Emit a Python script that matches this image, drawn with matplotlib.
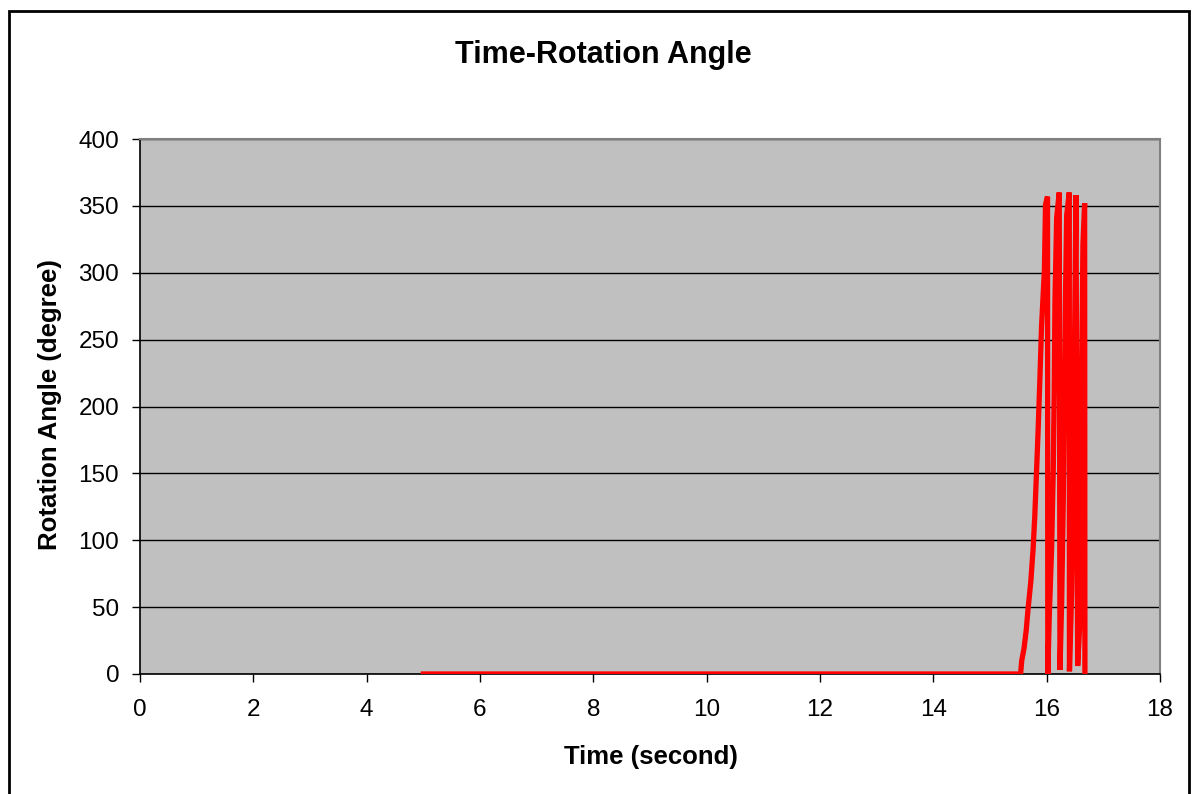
import matplotlib
matplotlib.use('Agg')
import matplotlib.pyplot as plt
from matplotlib.patches import Rectangle

# 数据：时间 (秒) 与 旋转角度 (度)
time_s = [5.00, 15.54, 15.56, 15.60, 15.64, 15.67, 15.72, 15.76, 15.79, 15.82,
          15.85, 15.88, 15.91, 15.96, 15.98, 16.015, 16.02,
          16.045, 16.088, 16.116, 16.134, 16.146, 16.176, 16.222, 16.235,
          16.265, 16.293, 16.315, 16.330, 16.353, 16.399, 16.402,
          16.441, 16.469, 16.485, 16.517, 16.547,
          16.587, 16.617, 16.640, 16.670, 16.675]
angle_deg = [0, 0, 10, 19, 33, 48, 69, 93, 118, 150,
             183, 220, 260, 302, 351, 357, 0,
             42, 95, 152, 212, 278, 341, 360, 3,
             55, 130, 210, 276, 343, 360, 2,
             61, 137, 217, 358, 6,
             39, 220, 321, 352, 0]

x_ticks = list(range(0, 19, 2))
y_ticks = list(range(0, 401, 50))

fig = plt.figure(figsize=(11.92, 7.94), dpi=100)
ax = fig.add_axes([140 / 1192, 1 - 674 / 794, 1020 / 1192, 535 / 794])

ax.set_facecolor('#C0C0C0')
ax.plot(time_s, angle_deg, color='#FF0000', lw=3.8, solid_joinstyle='miter', zorder=3)

ax.set_xlim(0, 18)
ax.set_ylim(0, 400)
ax.set_xticks(x_ticks)
ax.set_yticks(y_ticks)
ax.yaxis.grid(True, color='black', lw=1)
ax.set_axisbelow(True)

for s in ['top', 'right']:
    ax.spines[s].set_color('#808080')
    ax.spines[s].set_linewidth(1.5)
for s in ['bottom', 'left']:
    ax.spines[s].set_color('black')
    ax.spines[s].set_linewidth(1.2)

ax.tick_params(direction='out', length=6, width=1, colors='black', labelsize=17.5)
ax.tick_params(axis='x', pad=12)
ax.tick_params(axis='y', pad=9)
for lab in ax.get_xticklabels() + ax.get_yticklabels():
    lab.set_family('Liberation Sans')

ax.set_xlabel('Time (second)', fontsize=18.5, fontweight='bold',
              family='Liberation Sans', va='center')
ax.xaxis.set_label_coords(0.501, -0.155)
ax.set_ylabel('Rotation Angle (degree)', fontsize=18.5, fontweight='bold',
              family='Liberation Sans', va='center')
ax.yaxis.set_label_coords(-0.088, 0.503)
fig.text(603 / 1192, 1 - 55 / 794, 'Time-Rotation Angle', ha='center', va='center',
         fontsize=22, fontweight='bold', family='Liberation Sans')

# 外框
fig.patches.append(Rectangle((9 / 1192, -0.02), 1180 / 1192, 1 - 11 / 794 + 0.02,
                             transform=fig.transFigure, fill=False,
                             edgecolor='black', lw=2))

fig.savefig('out.png', dpi=100)
